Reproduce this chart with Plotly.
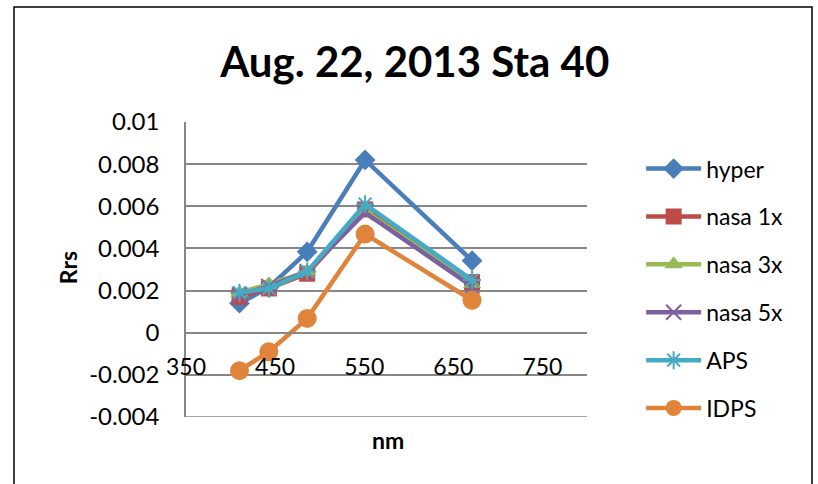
import plotly.graph_objects as go

wavelengths = [410, 443, 486, 551, 671]
hyper = [0.0014, 0.00215, 0.00384, 0.0082, 0.00342]
nasa_1x = [0.0017, 0.0021, 0.0028, 0.00585, 0.0024]
nasa_3x = [0.0019, 0.0023, 0.0029, 0.00578, 0.00232]
nasa_5x = [0.0018, 0.0022, 0.0029, 0.0057, 0.0022]
aps = [0.0019, 0.0021, 0.0029, 0.0061, 0.0025]
idps = [-0.0018, -0.0009, 0.00068, 0.00468, 0.00154]

series_names = ["hyper", "nasa 1x", "nasa 3x", "nasa 5x", "APS", "IDPS"]
series_values = [hyper, nasa_1x, nasa_3x, nasa_5x, aps, idps]
colors = ["#4A7EBB", "#BE4B48", "#98B954", "#7D60A0", "#46AAC5", "#E0843C"]
symbols = ["diamond", "square", "triangle-up", "x-thin-open", "asterisk-open", "circle"]
sizes = [16, 16, 16, 15, 15, 19]

y_min, y_max = -0.004, 0.01
y_tickvals = [-0.004, -0.002, 0, 0.002, 0.004, 0.006, 0.008, 0.01]
y_ticktext = ["-0.004", "-0.002", "0", "0.002", "0.004", "0.006", "0.008", "0.01"]
x_tickvals = [350, 450, 550, 650, 750]
x_ticktext = ["350", "450", "550", "650", "750"]

FONT = "Lato"
FS = 23
fig = go.Figure()
for name, vals, c, s, sz in zip(series_names, series_values, colors, symbols, sizes):
    open_sym = s.endswith("open")
    fig.add_trace(go.Scatter(
        x=wavelengths, y=vals, name=name, mode="lines+markers",
        legendgroup=name,
        line=dict(color=c, width=4.5),
        marker=dict(symbol=s, size=sz, color=c,
                    line=dict(color=c, width=2 if open_sym else 0)),
    ))

fig.update_layout(
    width=818, height=484,
    margin=dict(l=186, r=231, t=122, b=67),
    paper_bgcolor="white", plot_bgcolor="white",
    font=dict(family=FONT, size=FS, color="black"),
    title=dict(text="<b>Aug. 22, 2013 Sta 40</b>", x=0.507, xanchor="center",
               y=1 - 62 / 484, yanchor="middle", yref="container",
               font=dict(family=FONT, size=42, color="black")),
    showlegend=True,
    legend=dict(x=1.135, xanchor="left", y=0.915, yanchor="top",
                font=dict(family=FONT, size=FS), tracegroupgap=15,
                itemwidth=55, bgcolor="rgba(0,0,0,0)", maxheight=420),
    xaxis=dict(range=[350, 800], tickvals=x_tickvals, ticktext=x_ticktext,
               showgrid=False, zeroline=False, showline=True,
               linecolor="#878787", linewidth=1.5,
               anchor="free", position=(0 - y_min) / (y_max - y_min),
               ticks="", ticklabelstandoff=14,
               tickfont=dict(family=FONT, size=FS)),
    yaxis=dict(range=[y_min, y_max], tickvals=y_tickvals, ticktext=y_ticktext,
               showgrid=True, gridcolor="#878787", gridwidth=1.5,
               zeroline=False, showline=True, linecolor="#878787", linewidth=1.5,
               ticks="", ticklabelstandoff=20,
               tickfont=dict(family=FONT, size=24)),
    annotations=[
        dict(text="<b>nm</b>", x=0.504, y=-0.078, xref="paper", yref="paper",
             showarrow=False, xanchor="center", yanchor="middle",
             font=dict(family=FONT, size=FS)),
        dict(text="<b>Rrs</b>", x=-0.294, y=0.505, xref="paper", yref="paper",
             showarrow=False, xanchor="center", yanchor="middle", textangle=-90,
             font=dict(family=FONT, size=FS)),
    ],
    shapes=[
        dict(type="rect", xref="paper", yref="paper",
             x0=(14 - 186) / 401, x1=(812 - 186) / 401,
             y0=(417 - 495) / 295, y1=(417 - 7) / 295,
             line=dict(color="black", width=1.5), layer="below"),
        dict(type="line", xref="paper", yref="y", x0=0, x1=1,
             y0=y_min, y1=y_min, line=dict(color="#878787", width=1.5),
             layer="below"),
    ],
)

fig.write_html("out.html", config={"displayModeBar": False},
               post_script="document.body.style.margin='0';")
